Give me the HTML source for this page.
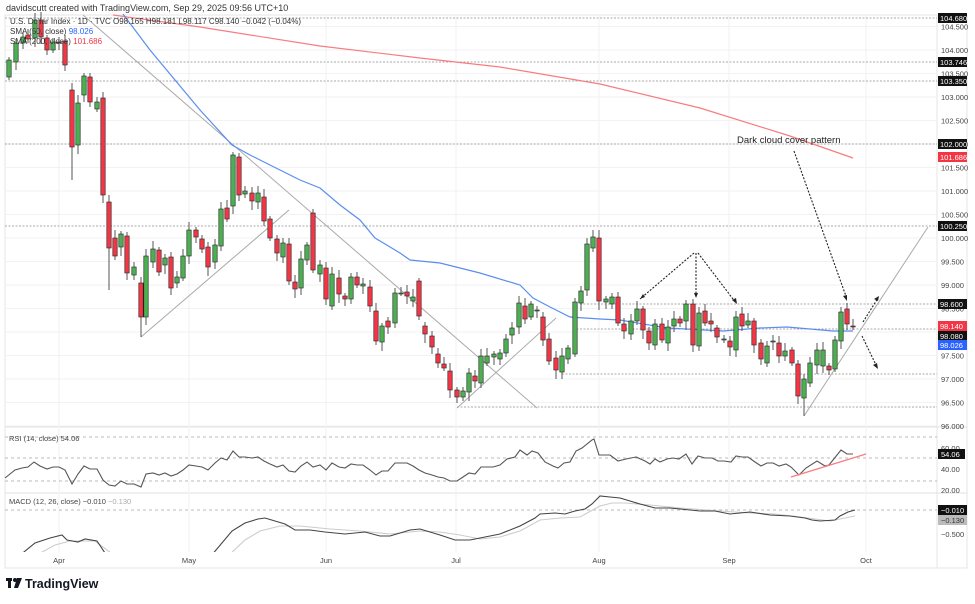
<!DOCTYPE html>
<html><head><meta charset="utf-8"><style>
body{margin:0;background:#fff;width:975px;height:599px;overflow:hidden;font-family:"Liberation Sans",sans-serif}
svg text{font-family:"Liberation Sans",sans-serif}
</style></head><body>
<svg id="s" width="975" height="599" viewBox="0 0 975 599" xmlns="http://www.w3.org/2000/svg">
<rect width="975" height="599" fill="#fff"/>
<text x="6" y="11" font-size="9" fill="#333">davidscutt created with TradingView.com, Sep 29, 2025 09:56 UTC+10</text>
<rect x="5" y="15" width="962" height="553" fill="none" stroke="#e6e6e6"/>
<line x1="937" y1="15" x2="937" y2="568" stroke="#e6e6e6"/>
<line x1="5" y1="427" x2="967" y2="427" stroke="#e0e0e0"/>
<line x1="5" y1="493" x2="967" y2="493" stroke="#e0e0e0"/>
<g id="grid" stroke="#f2f2f2" stroke-width="1"></g>
<g id="hl" stroke="#aaa" stroke-width="1" stroke-dasharray="2,1.5"></g>
<g stroke="#aaa" stroke-width="1" fill="none">
<line x1="83" y1="15" x2="537" y2="408"/>
<line x1="141" y1="337" x2="289" y2="210"/>
<line x1="457" y1="408" x2="556" y2="318"/>
<line x1="804" y1="416" x2="928" y2="227"/>
</g>
<polyline id="sma200" fill="none" stroke="#f77c80" stroke-width="1.2" points="113,15 200,27 320,46 420,58 500,67 600,84 700,108 790,136 853,158"/>
<polyline id="sma50" fill="none" stroke="#5b8def" stroke-width="1.2" points="123,14 150,50 175,80 200,110 232,145 250,155 280,170 300,180 320,188 340,205 360,220 375,238 400,253 410,260 440,263 480,273 520,285 533,298 550,307 570,317 600,319 620,320 667,328 723,331 760,328 787,327 810,329 833,331 853,331"/>
<g id="candles"></g>
<g stroke="#222" stroke-width="1.1" stroke-dasharray="2,1.5" fill="none">
<line x1="694" y1="253" x2="640" y2="299"/>
<line x1="696" y1="253" x2="696" y2="296"/>
<line x1="698" y1="253" x2="736" y2="303"/>
<line x1="794" y1="151" x2="847" y2="299"/>
<line x1="863" y1="322" x2="878" y2="298"/>
<line x1="862" y1="336" x2="877" y2="367"/>
</g>
<g fill="#222">
<polygon points="640,299 643,294 645,297"/>
<polygon points="696,298 694,293 698,293"/>
<polygon points="737,304 732,300 736,298"/>
<polygon points="847,301 843,296 847,295"/>
<polygon points="879,296 874,299 878,301"/>
<polygon points="878,369 873,365 877,363"/>
</g>
<text x="737" y="143" font-size="9.5" fill="#222">Dark cloud cover pattern</text>
<text x="10" y="24" font-size="8" fill="#333">U.S. Dollar Index · 1D · TVC  O98.165  H98.181  L98.117  C98.140  −0.042 (−0.04%)</text>
<text x="10" y="34" font-size="8" fill="#333">SMA (50, close) <tspan fill="#2962ff">98.026</tspan></text>
<text x="10" y="44" font-size="8" fill="#333">SMA (200, close) <tspan fill="#f23645">101.686</tspan></text>
<g id="axis" font-size="7.5" fill="#444"></g>
<!-- RSI -->
<g stroke="#bbb" stroke-dasharray="3,3"><line x1="5" y1="437" x2="937" y2="437"/><line x1="5" y1="458" x2="937" y2="458"/><line x1="5" y1="481" x2="937" y2="481"/><line x1="5" y1="510" x2="937" y2="510"/></g>
<text x="9" y="441" font-size="7.5" fill="#444">RSI (14, close) 54.06</text>
<polyline fill="none" stroke="#555" stroke-width="1.1" points="5,478 15,470 22,468 28,467 34,462 40,466 47,469 53,467 59,467 65,470 72,484 78,474 84,466 90,469 97,469 103,480 109,485 115,486 121,481 127,484 134,484 141,487 146,474 153,473 159,475 165,473 171,476 177,474 183,470 189,465 196,466 202,467 208,470 215,463 221,458 227,460 233,451 239,457 245,457 252,458 258,457 264,461 270,464 277,467 283,465 289,471 295,472 301,466 307,462 313,467 320,465 326,470 332,463 339,467 345,468 351,464 357,465 363,465 370,470 376,475 382,471 388,471 395,463 401,463 407,463 413,466 419,470 425,473 432,475 438,477 444,478 450,481 457,481 463,477 469,473 475,474 481,467 493,467 500,465 507,459 515,457 520,450 527,455 532,451 538,453 545,462 553,466 558,468 564,463 570,462 576,451 582,448 592,440 594,439 599,455 610,455 618,461 626,459 636,457 645,461 650,464 655,459 660,462 667,459 673,458 679,459 686,454 692,464 698,456 705,458 712,458 718,461 724,461 731,462 736,456 742,457 748,457 755,462 761,466 767,463 773,463 779,466 786,464 791,467 797,473 799,475 806,468 817,461 825,466 829,465 841,450 847,454 853,454"/>
<line x1="791" y1="477" x2="866" y2="454" stroke="#f77c80" stroke-width="1.2"/>
<text x="941" y="451" font-size="7.5" fill="#444">60.00</text>
<text x="941" y="472" font-size="7.5" fill="#444">40.00</text>
<text x="941" y="493" font-size="7.5" fill="#444">20.00</text>
<rect x="938" y="449" width="27" height="10" fill="#111"/><text x="941" y="457" font-size="7.5" fill="#fff">54.06</text>
<!-- MACD -->
<text x="9" y="504" font-size="7.5" fill="#444">MACD (12, 26, close) −0.010 <tspan fill="#aaa">−0.130</tspan></text>
<svg x="0" y="493" width="937" height="59" viewBox="0 493 937 59" overflow="hidden">
<polyline fill="none" stroke="#ccc" stroke-width="1.1" points="35,556 55,545 70,541 95,541 115,556"/>
<polyline fill="none" stroke="#ccc" stroke-width="1.1" points="228,556 245,540 260,531 280,526 300,526 330,529 360,531 390,534 420,531 440,532 460,535 480,539 500,537 520,531 540,520 560,518 580,517 600,506 612,503 625,503 650,505 680,508 720,511 750,513 775,514 800,517 815,519 830,521 845,518 855,516"/>
<polyline fill="none" stroke="#444" stroke-width="1.1" points="19,556 35,543 50,538 62,535 67,540 78,542 85,539 97,541 107,556"/>
<polyline fill="none" stroke="#444" stroke-width="1.1" points="211,556 232,531 245,523 258,519 265,518 285,524 295,530 310,530 325,532 345,534 365,532 380,536 390,536 410,530 420,529 440,535 455,540 470,540 480,538 500,534 520,526 535,518 540,514 555,513 565,514 575,511 585,509 592,504 600,496 610,497 620,498 630,501 640,504 655,508 670,508 690,510 700,511 715,511 730,514 750,512 770,515 790,516 805,518 812,520 820,521 835,520 840,516 848,512 855,510"/>
</svg>
<rect x="938" y="505" width="29" height="10" fill="#111"/><text x="941" y="513" font-size="7.5" fill="#fff">−0.010</text>
<rect x="938" y="515" width="29" height="10" fill="#bbb"/><text x="941" y="523" font-size="7.5" fill="#333">−0.130</text>
<text x="941" y="537" font-size="7.5" fill="#444">−0.500</text>
<g font-size="7.5" fill="#444" text-anchor="middle">
<text x="59" y="563">Apr</text><text x="189" y="563">May</text><text x="326" y="563">Jun</text><text x="456" y="563">Jul</text><text x="599" y="563">Aug</text><text x="729" y="563">Sep</text><text x="866" y="563">Oct</text>
</g>
<g transform="translate(6,577)"><rect x="0" y="1" width="6" height="3" fill="#131722"/><rect x="2" y="1" width="3" height="10" fill="#131722"/><circle cx="9" cy="3" r="2" fill="#131722"/><polygon points="11,1 16,1 12,11 8,11" fill="#131722"/></g>
<text x="25" y="588" font-size="12.5" font-weight="bold" fill="#131722">TradingView</text>
</svg>
<script>
const NS="http://www.w3.org/2000/svg";
function el(p,t,a){const e=document.createElementNS(NS,t);for(const k in a)e.setAttribute(k,a[k]);p.appendChild(e);return e;}
const P=p=>50+(104-p)*47;
const grid=document.getElementById('grid');
[59,189,326,456,599,729,866].forEach(x=>el(grid,'line',{x1:x,y1:15,x2:x,y2:552}));
for(let p=96;p<=104.5;p+=0.5)el(grid,'line',{x1:5,y1:P(p),x2:937,y2:P(p)});
const hl=document.getElementById('hl');
[[5,18],[5,62],[5,81],[5,144],[5,226],[580,304],[573,329],[562,374],[457,407]].forEach(a=>el(hl,'line',{x1:a[0],y1:a[1],x2:937,y2:a[1]}));
const ax=document.getElementById('axis');
for(let p=96;p<=104.5;p+=0.5){const t=el(ax,'text',{x:941,y:P(p)+3});t.textContent=p.toFixed(3);}
[[18,'104.680','#111'],[62,'103.746','#111'],[81,'103.350','#111'],[144,'102.000','#111'],[157,'101.686','#f23645'],[226,'100.250','#111'],[304,'98.600','#111'],[326,'98.140','#f23645'],[336,'98.080','#111'],[345,'98.026','#2962ff']].forEach(a=>{
el(ax,'rect',{x:938,y:a[0]-5,width:29,height:10,fill:a[2]});const t=el(ax,'text',{x:940,y:a[0]+3,fill:'#fff'});t.textContent=a[1];});
const d=[[9,77,60],[16,62,43],[23,43,37],[28,35,39],[35,38,20],[41,20,37],[47,38,50],[53,50,42],[59,42,42],[65,41,65],[72,90,147],[78,145,103],[84,95,76],[90,77,102],[97,109,102],[103,98,195],[109,202,248],[115,238,256],[121,247,234],[127,236,273],[134,275,267],[141,283,317],[146,317,256],[153,262,249],[159,250,272],[165,265,258],[171,257,288],[177,283,277],[183,278,256],[189,256,230],[196,230,237],[202,239,249],[208,247,267],[215,262,245],[221,246,209],[227,208,219],[233,206,155],[239,157,195],[245,194,191],[252,193,201],[258,202,193],[264,197,221],[270,219,238],[277,239,253],[283,257,243],[289,244,281],[295,282,289],[301,288,259],[307,260,245],[313,213,270],[320,274,265],[326,268,299],[332,306,274],[339,278,294],[345,296,299],[351,299,277],[357,277,285],[363,286,284],[370,287,306],[376,311,341],[382,342,326],[388,321,327],[395,323,293],[401,293,293],[407,292,296],[413,301,297],[419,281,316],[425,326,334],[432,336,347],[438,354,363],[444,364,368],[450,371,390],[457,390,397],[463,397,391],[469,392,373],[475,376,381],[481,383,356],[487,363,356],[494,357,354],[500,359,353],[506,353,339],[512,335,328],[519,327,303],[525,306,319],[531,317,304],[537,310,310],[543,317,340],[549,339,361],[556,358,370],[562,372,356],[568,359,348],[575,354,302],[581,303,291],[587,290,244],[593,248,237],[599,238,301],[606,302,299],[612,304,297],[618,297,323],[624,324,331],[631,334,321],[637,321,309],[643,309,330],[649,331,343],[655,345,324],[662,324,340],[668,343,327],[674,326,319],[680,319,323],[686,321,304],[693,304,345],[699,346,313],[705,311,323],[711,321,324],[717,328,337],[724,339,339],[730,341,347],[736,350,317],[742,314,326],[748,325,321],[754,321,345],[761,343,359],[767,363,346],[773,341,341],[779,343,356],[785,356,351],[792,350,363],[798,364,396],[804,398,379],[810,383,363],[817,365,350],[823,366,350],[829,366,370],[835,369,340],[841,341,312],[847,309,324],[853,326,326]];
const lows={141:337,804:416,457:403,109:290,72:180};
const cg=document.getElementById('candles');
d.forEach((c,i)=>{const [x,o,cl]=c;const top=Math.min(o,cl),bot=Math.max(o,cl);
const h=top-(3+(i*7)%6),l=lows[x]||bot+(3+(i*5)%7);
el(cg,'line',{x1:x,y1:h,x2:x,y2:l,stroke:'#555','stroke-width':1});
const up=cl<o||(cl==o&&i%2);
el(cg,'rect',{x:x-2.2,y:top,width:4.4,height:Math.max(1,bot-top),fill:up?'#4caf50':'#f23645',stroke:'#222','stroke-width':0.6});});
</script>
</body></html>
